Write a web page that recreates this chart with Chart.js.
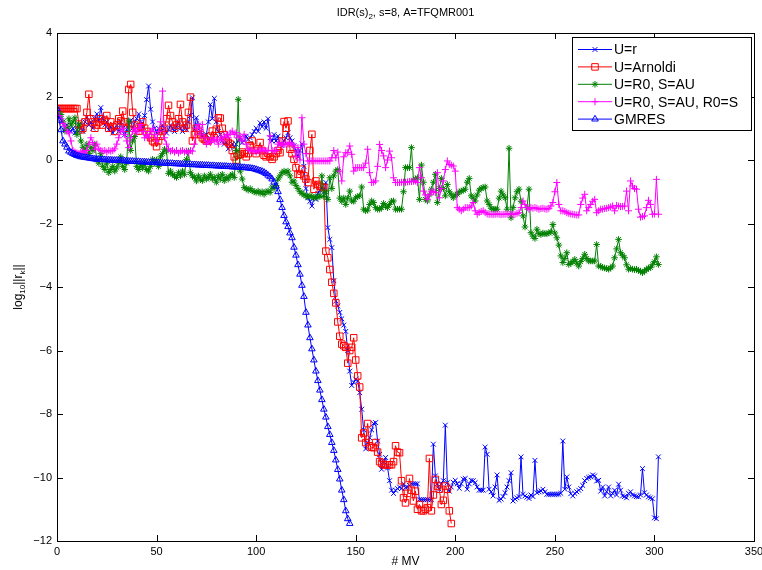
<!DOCTYPE html>
<html>
<head>
<meta charset="utf-8">
<script src="https://cdn.jsdelivr.net/npm/chart.js@4.4.1/dist/chart.umd.min.js"></script>
<style>
  html, body { margin: 0; padding: 0; background: #fff; }
  canvas { display: block; }
</style>
</head>
<body>
<canvas id="chart" width="762" height="570"></canvas>
<script>
// ---- data (log10 of residual norm per matrix-vector product) ----
const xStart = 0;
const xTickValues = [0, 50, 100, 150, 200, 250, 300, 350];
const yTickValues = [-12, -10, -8, -6, -4, -2, 0, 2, 4];
const seriesLabels = ['U=r', 'U=Arnoldi', 'U=R0, S=AU', 'U=R0, S=AU, R0=S', 'GMRES'];
const titleParts = ['IDR(s)', '2', ', s=8, A=TFQMR001'];
const xLabel = '# MV';

const resR = [
  1.6,1.45,1.3,1.2,1.05,1.1,0.95,0.9,1.0,0.85,
  0.95,1.1,1.0,0.9,1.2,1.35,1.1,1.2,1.0,1.3,
  1.45,1.25,1.65,1.3,1.1,1.2,0.95,1.05,0.85,1.0,
  1.1,0.9,1.2,1.0,0.8,0.95,1.1,1.25,1.0,1.2,
  1.3,1.45,1.2,1.0,1.4,1.9,2.33,1.6,1.2,1.0,
  0.85,1.0,0.9,1.1,1.0,0.85,0.95,1.1,1.0,0.9,
  1.05,1.2,1.0,0.9,1.1,0.95,1.2,1.4,1.96,0.95,
  1.33,1.1,0.9,0.75,0.65,0.8,1.2,1.75,1.3,1.94,
  1.2,0.9,0.8,0.6,0.5,0.55,0.35,0.45,0.5,0.4,
  0.5,0.6,0.7,0.55,0.6,0.75,0.65,0.7,0.8,0.9,
  1.0,0.9,1.17,1.05,1.2,1.0,1.3,0.7,0.6,0.8,
  0.6,0.75,0.5,0.45,0.6,0.7,0.86,0.7,0.6,0.45,
  0.3,0.1,0.3,0.51,-0.2,-0.9,-1.19,-1.3,-1.45,-1.2,
  -1.24,-1.05,-0.95,-0.85,-1.0,-0.71,-2.13,-2.5,-2.76,-3.8,
  -4.44,-4.6,-4.8,-5.0,-5.2,-5.4,-6.0,-6.65,-7.1,-7.0,
  -6.9,-6.96,-7.33,-7.85,-8.5,-9.1,-8.9,-8.75,-8.5,-8.3,
  -8.27,-8.85,-9.27,-9.74,-9.5,-9.37,-9.7,-10.1,-10.4,-10.5,
  -10.4,-10.35,-10.3,-10.35,-10.2,-10.32,-10.3,-10.25,-10.2,-10.2,
  -10.2,-10.2,-10.7,-10.7,-10.7,-10.7,-10.7,-10.7,-10.7,-8.95,
  -9.95,-10.2,-10.37,-10.2,-10.1,-8.35,-10.16,-10.43,-10.3,-10.15,
  -10.09,-10.2,-10.34,-10.2,-10.05,-10.03,-10.37,-10.2,-10.09,-10.1,
  -10.16,-10.3,-10.4,-10.4,-10.4,-9.04,-9.27,-10.37,-10.45,-10.58,
  -10.3,-9.92,-10.72,-10.68,-10.6,-10.48,-10.3,-10.1,-9.85,-10.74,
  -10.68,-10.64,-10.6,-9.35,-10.53,-10.58,-10.62,-10.66,-10.55,-10.6,
  -9.46,-10.48,-10.45,-10.42,-10.37,-10.45,-10.53,-10.53,-10.53,-10.53,
  -10.53,-10.53,-10.53,-10.5,-8.85,-10.37,-9.98,-10.3,-10.51,-10.58,
  -10.5,-10.45,-10.4,-10.35,-10.25,-10.1,-10.03,-10.0,-9.98,-9.92,
  -9.95,-10.11,-10.09,-10.43,-10.3,-10.58,-10.45,-10.3,-10.58,-10.5,
  -10.4,-10.55,-10.21,-10.4,-10.58,-10.6,-10.64,-10.5,-10.45,-10.55,
  -10.58,-10.6,-10.61,-10.55,-9.72,-10.48,-10.55,-10.61,-10.64,-10.67,
  -11.27,-11.3,-9.35
];

const resArnoldi = [
  1.62,1.62,1.62,1.62,1.62,1.62,1.62,1.62,1.62,1.62,
  1.62,1.13,0.95,1.0,1.2,1.5,2.07,1.3,1.2,1.0,
  1.1,1.2,1.3,1.1,1.25,1.4,1.0,1.2,1.05,0.9,
  1.1,1.3,1.23,1.54,1.2,1.0,2.22,2.38,1.5,1.1,
  1.0,0.91,1.05,1.2,1.0,0.9,0.8,0.7,0.6,0.55,
  0.42,0.6,0.75,0.9,1.0,1.3,1.72,1.4,1.2,1.0,
  1.1,1.3,1.75,1.2,1.0,1.1,1.5,1.98,0.6,0.8,
  1.0,0.9,0.8,0.7,0.65,0.6,0.6,0.75,0.91,0.7,
  0.97,1.33,1.32,1.0,0.8,0.6,0.55,0.5,0.3,0.1,
  0.0,0.15,0.18,0.25,0.2,0.1,0.2,0.45,0.6,0.3,
  0.2,0.35,0.55,0.3,0.15,0.1,0.2,0.1,0.02,0.1,
  0.2,0.3,0.23,0.6,1.21,1.0,1.23,0.34,0.2,0.02,
  -0.24,-0.45,-0.45,-0.29,-0.5,-0.6,-0.71,0.3,0.81,-0.92,
  -0.66,-0.77,-0.82,-0.85,-0.87,-2.87,-3.08,-3.45,-3.85,-4.2,
  -4.5,-5.1,-5.55,-5.8,-5.85,-5.9,-6.4,-6.0,-5.9,-5.6,
  -6.3,-6.8,-7.15,-8.75,-8.6,-8.9,-8.3,-9.0,-9.05,-9.06,
  -8.9,-9.2,-9.5,-9.55,-9.6,-9.6,-9.6,-9.6,-9.6,-9.5,
  -9.0,-9.2,-9.22,-10.1,-10.64,-10.8,-10.5,-10.03,-10.4,-10.74,
  -10.43,-11.0,-10.85,-11.05,-11.05,-11.0,-10.95,-9.4,-11.05,-10.55,
  -10.06,-10.27,-10.37,-10.85,-10.72,-10.27,-10.37,-11.05,-11.45
];

const resR0AU = [
  1.6,1.45,1.43,1.2,0.91,1.0,1.3,1.1,1.2,1.33,
  0.8,1.13,0.6,0.4,0.3,0.5,0.2,0.4,0.3,0.5,
  0.0,-0.1,0.2,-0.2,-0.3,-0.1,-0.4,-0.3,-0.2,-0.35,
  -0.25,-0.1,0.1,-0.2,-0.3,-0.1,1.23,0.3,0.6,0.74,
  -0.2,-0.3,-0.15,-0.25,-0.1,-0.3,-0.35,-0.2,0.02,-0.1,
  0.0,-0.2,0.1,0.2,0.34,0.28,-0.42,-0.35,-0.45,-0.5,
  -0.55,-0.4,-0.5,-0.35,-0.45,0.02,0.28,-0.4,-0.5,-0.55,
  -0.66,-0.5,-0.6,-0.65,-0.5,-0.6,-0.55,-0.45,-0.6,-0.55,
  -0.7,-0.5,-0.6,-0.45,-0.65,-0.55,-0.6,-0.5,-0.45,-0.55,
  0.3,1.91,-0.35,-0.6,-0.87,-0.9,-0.95,-0.9,-0.97,-1.0,
  -1.02,-0.98,-1.05,-1.0,-1.08,-1.0,-0.98,-1.02,-0.85,-0.9,
  -0.8,-0.6,-0.5,-0.4,-0.35,-0.4,-0.35,-0.5,-0.7,-0.66,
  -0.8,-0.9,-1.0,-1.05,-1.1,-1.13,-1.17,-1.13,-1.15,-1.2,
  -1.15,-1.18,-1.13,-0.5,-1.15,-1.0,-1.24,-0.56,-0.9,-0.5,
  -0.35,-0.3,-1.2,-1.3,-1.2,-1.4,-1.2,-0.98,-1.29,-1.3,
  -1.19,-1.15,-1.13,-0.85,-1.55,-1.6,-1.58,-1.4,-1.29,-1.34,
  -1.5,-1.55,-1.55,-1.5,-1.37,-1.45,-1.5,-1.4,-1.3,-1.29,
  -1.55,-1.55,-1.55,-1.55,-1.0,-0.24,-0.24,-0.24,0.39,-0.63,
  -0.6,-0.56,-1.24,-0.16,-0.7,-1.24,-1.29,-1.1,-0.92,-0.7,
  -0.45,-1.34,-0.9,-0.58,-0.9,-1.13,-0.77,-1.0,-1.1,-1.19,
  -1.1,-1.08,-1.0,-0.98,-0.95,-0.92,-0.7,-0.58,-1.13,-1.2,
  -1.29,-1.1,-0.95,-0.89,-0.87,-0.85,-1.29,-1.4,-1.52,-1.55,
  -1.55,-1.55,-1.2,-0.98,-1.1,-1.19,-1.55,0.37,-1.82,-1.5,
  -1.19,-1.0,-0.92,-1.3,-1.76,-2.11,-1.5,-0.92,-2.29,-2.4,
  -2.47,-2.18,-2.32,-2.35,-2.3,-2.32,-2.32,-2.3,-2.26,-2.03,
  -2.3,-2.45,-2.68,-3.02,-3.23,-3.1,-2.92,-3.29,-3.25,-3.2,
  -3.13,-3.25,-3.34,-3.2,-3.1,-2.97,-3.1,-3.18,-3.18,-3.18,
  -3.18,-2.66,-3.34,-3.35,-3.39,-3.4,-3.42,-3.44,-3.4,-3.34,
  -3.08,-2.8,-2.5,-2.92,-3.0,-3.08,-3.3,-3.44,-3.42,-3.44,
  -3.45,-3.44,-3.48,-3.5,-3.55,-3.5,-3.45,-3.4,-3.39,-3.3,
  -3.2,-3.05,-3.29
];

const resR0AUS = [
  1.6,1.4,1.3,1.15,1.07,0.9,0.85,0.6,0.3,0.25,
  0.22,0.2,0.25,0.28,0.22,0.3,0.5,0.7,0.55,0.34,
  0.5,0.35,0.3,0.28,0.3,0.25,0.3,0.28,0.3,0.35,
  0.5,0.7,0.9,1.0,0.8,0.6,0.39,0.7,0.9,1.0,
  0.85,1.0,1.12,0.9,0.7,0.8,0.7,0.9,1.0,0.8,
  0.6,0.9,1.2,2.17,0.7,0.5,0.35,0.28,0.3,0.25,
  0.3,0.22,0.28,0.3,0.25,0.28,0.22,0.3,0.28,0.5,
  1.0,1.12,0.8,1.12,0.7,0.5,0.6,0.55,0.7,0.6,
  0.65,0.5,0.7,0.6,0.75,0.8,0.7,0.85,0.91,0.8,
  0.86,0.7,0.75,0.6,0.81,0.5,0.35,0.3,0.28,0.3,
  0.25,0.3,0.28,0.35,0.3,0.28,0.3,0.76,0.3,0.28,
  0.3,0.5,0.55,0.45,0.5,0.5,0.5,0.55,0.5,0.45,
  0.1,0.39,0.0,1.33,0.5,0.2,-0.03,-0.03,-0.03,-0.03,
  -0.03,-0.03,-0.03,-0.03,-0.03,-0.03,-0.03,-0.03,0.07,0.3,
  0.07,0.25,-0.35,-0.66,0.1,0.23,0.23,0.44,0.18,-0.35,
  -0.24,-0.24,-0.24,-0.24,-0.24,-0.1,0.34,-0.4,-0.71,-0.7,
  -0.66,-0.2,0.49,0.3,0.13,-0.24,0.0,0.28,0.07,-0.56,
  -0.71,-0.71,-0.71,-0.7,-0.7,-0.7,-0.69,-0.68,-0.68,-0.67,
  -0.66,-0.71,-0.24,-0.56,-0.98,-1.1,-1.24,-1.1,-0.98,-1.0,
  -1.03,-0.4,-1.19,-0.9,-0.66,-0.3,-0.03,-0.14,-0.16,-0.19,
  -0.35,-1.5,-1.55,-1.6,-1.55,-1.5,-1.5,-1.5,-1.45,-1.34,
  -1.6,-1.71,-1.65,-1.62,-1.6,-1.65,-1.7,-1.71,-1.71,-1.72,
  -1.71,-1.7,-1.71,-1.72,-1.71,-1.71,-1.7,-1.71,-1.7,-1.71,
  -1.71,-1.68,-1.66,-1.5,-1.29,-1.4,-1.5,-1.55,-1.5,-1.52,
  -1.5,-1.52,-1.55,-1.53,-1.52,-1.54,-1.55,-1.52,-1.45,-1.34,
  -1.0,-0.71,-1.4,-1.6,-1.6,-1.62,-1.66,-1.68,-1.7,-1.71,
  -1.72,-1.73,-1.73,-1.4,-1.2,-1.08,-1.6,-1.5,-1.4,-1.3,
  -1.24,-1.66,-1.6,-1.55,-1.55,-1.53,-1.52,-1.5,-1.48,-1.45,
  -1.6,-1.43,-1.45,-1.47,-1.46,-1.45,-0.98,-1.6,-0.66,-0.82,
  -0.9,-0.92,-1.55,-1.8,-1.78,-1.76,-1.5,-1.27,-1.4,-1.71,
  -1.7,-0.61,-1.71
];

const resGmres = [
  1.62,1.25,0.95,0.6,0.5,0.4,0.28,0.24,0.2,0.17,
  0.14,0.12,0.1,0.09,0.08,0.07,0.06,0.05,0.04,0.03,
  0.02,0.02,0.01,0.01,0.01,0.0,0.0,0.0,-0.01,-0.01,
  -0.01,-0.02,-0.02,-0.02,-0.03,-0.03,-0.04,-0.04,-0.04,-0.05,
  -0.05,-0.05,-0.06,-0.06,-0.06,-0.07,-0.07,-0.08,-0.08,-0.08,
  -0.09,-0.09,-0.09,-0.1,-0.1,-0.1,-0.11,-0.11,-0.11,-0.12,
  -0.12,-0.12,-0.13,-0.13,-0.13,-0.14,-0.14,-0.14,-0.15,-0.15,
  -0.15,-0.16,-0.16,-0.16,-0.17,-0.17,-0.17,-0.18,-0.18,-0.18,
  -0.19,-0.19,-0.19,-0.2,-0.2,-0.2,-0.21,-0.21,-0.22,-0.22,
  -0.22,-0.23,-0.23,-0.24,-0.24,-0.25,-0.25,-0.26,-0.27,-0.28,
  -0.3,-0.32,-0.34,-0.36,-0.39,-0.43,-0.48,-0.53,-0.6,-0.7,
  -0.82,-1.0,-1.25,-1.5,-1.75,-1.95,-2.1,-2.3,-2.45,-2.75,
  -3.0,-3.3,-3.6,-3.95,-4.3,-4.8,-5.2,-5.6,-5.95,-6.3,
  -6.65,-6.95,-7.25,-7.55,-7.85,-8.1,-8.4,-8.65,-8.9,-9.15,
  -9.45,-9.75,-10.05,-10.4,-10.7,-11.05,-11.3,-11.45
];

// ---- styling ----
const FONT = '"Liberation Sans", Arial, Helvetica, sans-serif';

const seriesDefs = [
  { data: resR,       color: '#0000FF', marker: 'crossRot', r: 3.4, order: 5 },
  { data: resArnoldi, color: '#FF0000', marker: 'rect',     r: 4.6, order: 4 },
  { data: resR0AU,    color: '#008000', marker: 'star',     r: 3.3, order: 3 },
  { data: resR0AUS,   color: '#FF00FF', marker: 'cross',    r: 3.5, order: 2 },
  { data: resGmres,   color: '#0000FF', marker: 'triangle', r: 3.8, order: 1 }
];

const toPts = arr => arr.map((v, i) => ({ x: xStart + i, y: v }));

function drawMarker(ctx, style, x, y, r) {
  const d = r * Math.SQRT1_2;
  ctx.beginPath();
  if (style === 'rect') {
    ctx.rect(x - d, y - d, 2 * d, 2 * d);
  } else if (style === 'triangle') {
    ctx.moveTo(x, y - r);
    ctx.lineTo(x + r * 0.866, y + r * 0.5);
    ctx.lineTo(x - r * 0.866, y + r * 0.5);
    ctx.closePath();
  } else {
    if (style === 'cross' || style === 'star') {
      ctx.moveTo(x - r, y); ctx.lineTo(x + r, y);
      ctx.moveTo(x, y - r); ctx.lineTo(x, y + r);
    }
    if (style === 'crossRot' || style === 'star') {
      ctx.moveTo(x - d, y - d); ctx.lineTo(x + d, y + d);
      ctx.moveTo(x - d, y + d); ctx.lineTo(x + d, y - d);
    }
  }
  ctx.stroke();
}

// box with inward ticks on all four sides (matlab look)
const framePlugin = {
  id: 'frame',
  afterDatasetsDraw(chart) {
    const { ctx, chartArea: a, scales: { x, y } } = chart;
    const tl = 6;
    ctx.save();
    ctx.strokeStyle = '#000';
    ctx.lineWidth = 1;
    ctx.beginPath();
    x.ticks.forEach(t => {
      const px = Math.round(x.getPixelForValue(t.value)) + 0.5;
      ctx.moveTo(px, a.bottom); ctx.lineTo(px, a.bottom - tl);
      ctx.moveTo(px, a.top); ctx.lineTo(px, a.top + tl);
    });
    y.ticks.forEach(t => {
      const py = Math.round(y.getPixelForValue(t.value)) + 0.5;
      ctx.moveTo(a.left, py); ctx.lineTo(a.left + tl, py);
      ctx.moveTo(a.right, py); ctx.lineTo(a.right - tl, py);
    });
    ctx.stroke();
    ctx.strokeRect(Math.round(a.left) + 0.5, Math.round(a.top) + 0.5,
                   Math.round(a.right - a.left), Math.round(a.bottom - a.top));
    ctx.restore();
  }
};

// title, y label with subscripts, and the boxed legend
const textPlugin = {
  id: 'texts',
  afterDraw(chart) {
    const { ctx, chartArea: a } = chart;
    ctx.save();
    ctx.fillStyle = '#000';
    ctx.textBaseline = 'alphabetic';

    // title
    const tp = [[titleParts[0], 11, 0], [titleParts[1], 8, 3], [titleParts[2], 11, 0]];
    let w = 0;
    tp.forEach(p => { ctx.font = p[1] + 'px ' + FONT; w += ctx.measureText(p[0]).width; });
    let tx = (a.left + a.right) / 2 - w / 2;
    tp.forEach(p => { ctx.font = p[1] + 'px ' + FONT; ctx.fillText(p[0], tx, 16 + p[2]); tx += ctx.measureText(p[0]).width; });

    // y label
    const yp = [['log', 12, 0], ['10', 8, 3], ['||r', 12, 0], ['k', 8, 3], ['||', 12, 0]];
    w = 0;
    yp.forEach(p => { ctx.font = p[1] + 'px ' + FONT; w += ctx.measureText(p[0]).width; });
    ctx.save();
    ctx.translate(22, (a.top + a.bottom) / 2);
    ctx.rotate(-Math.PI / 2);
    let lx = -w / 2;
    yp.forEach(p => { ctx.font = p[1] + 'px ' + FONT; ctx.fillText(p[0], lx, p[2]); lx += ctx.measureText(p[0]).width; });
    ctx.restore();

    // legend
    const bw = 179, bh = 93;
    const bx = Math.round(a.right) - 3 - bw, by = Math.round(a.top) + 4;
    ctx.fillStyle = '#fff';
    ctx.fillRect(bx, by, bw, bh);
    ctx.strokeStyle = '#000';
    ctx.lineWidth = 1;
    ctx.strokeRect(bx + 0.5, by + 0.5, bw, bh);
    ctx.font = '14px ' + FONT;
    ctx.textBaseline = 'middle';
    seriesDefs.forEach((s, i) => {
      const ry = by + 12.5 + i * 17.4;
      ctx.strokeStyle = s.color;
      ctx.beginPath();
      ctx.moveTo(bx + 6, ry); ctx.lineTo(bx + 40, ry);
      ctx.stroke();
      drawMarker(ctx, s.marker, bx + 23, ry, s.r);
      ctx.fillStyle = '#000';
      ctx.fillText(seriesLabels[i], bx + 42, ry + 1);
    });
    ctx.restore();
  }
};

const datasets = seriesDefs.map((s, i) => ({
  label: seriesLabels[i],
  data: toPts(s.data),
  borderColor: s.color,
  backgroundColor: 'rgba(0,0,0,0)',
  pointBackgroundColor: 'rgba(0,0,0,0)',
  pointBorderColor: s.color,
  borderWidth: 1,
  pointBorderWidth: 1,
  pointStyle: s.marker,
  pointRadius: s.r,
  pointHoverRadius: s.r,
  tension: 0,
  fill: false,
  order: s.order
}));

new Chart(document.getElementById('chart').getContext('2d'), {
  type: 'line',
  data: { datasets },
  options: {
    responsive: false,
    animation: false,
    devicePixelRatio: 1,
    layout: { padding: { top: 33, right: 8, bottom: 0, left: 0 } },
    plugins: { legend: { display: false }, title: { display: false }, tooltip: { enabled: false } },
    scales: {
      x: {
        type: 'linear', min: 0, max: 350,
        afterBuildTicks: s => { s.ticks = xTickValues.map(v => ({ value: v })); },
        ticks: { color: '#000', padding: 4, maxRotation: 0, font: { family: FONT, size: 11 } },
        grid: { display: false, drawTicks: false },
        border: { display: false },
        title: { display: true, text: xLabel, color: '#000', font: { family: FONT, size: 12 }, padding: { top: 0, bottom: 1 } },
        afterFit: s => { s.height = 29; s.paddingLeft = 0; s.paddingRight = 0; }
      },
      y: {
        type: 'linear', min: -12, max: 4,
        afterBuildTicks: s => { s.ticks = yTickValues.map(v => ({ value: v })); },
        ticks: { color: '#000', padding: 5, font: { family: FONT, size: 11 },
                 callback: v => String(v).replace('-', '\u2212') },
        grid: { display: false, drawTicks: false },
        border: { display: false },
        afterFit: s => { s.width = 57; s.paddingTop = 0; s.paddingBottom = 0; }
      }
    }
  },
  plugins: [framePlugin, textPlugin]
});
</script>
</body>
</html>
